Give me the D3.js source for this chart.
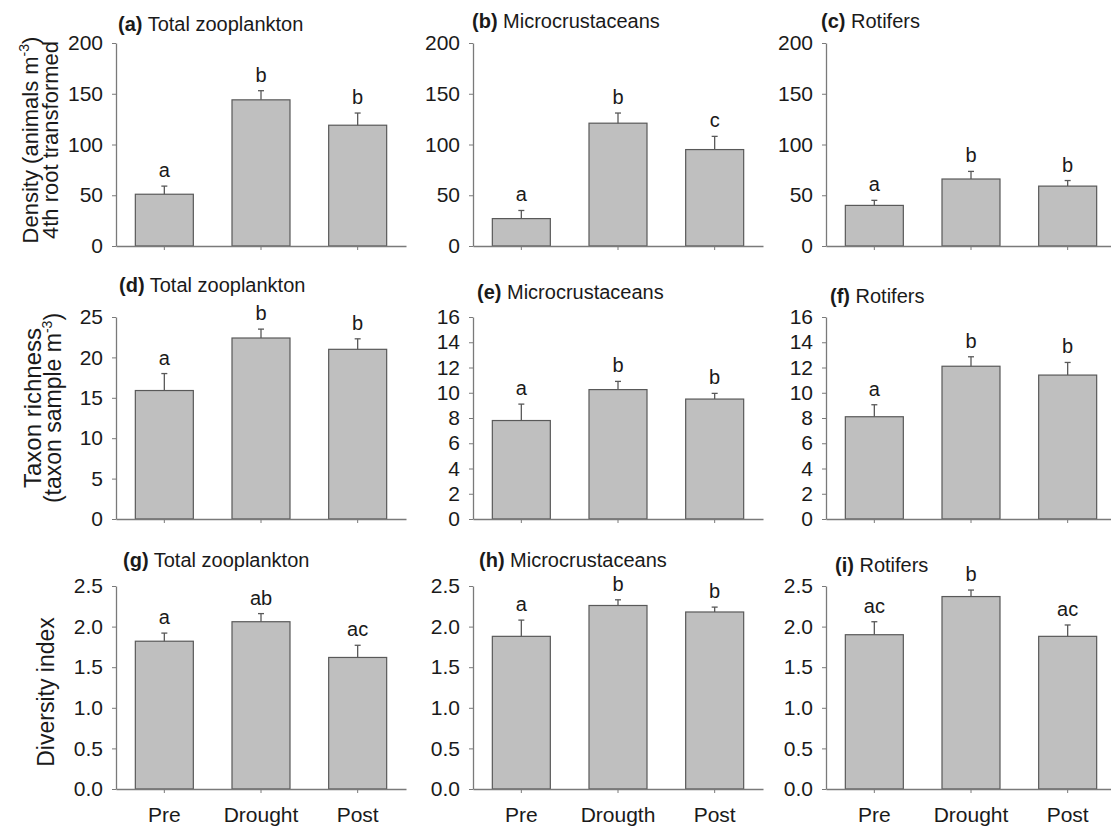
<!DOCTYPE html>
<html>
<head>
<meta charset="utf-8">
<script src="https://cdn.jsdelivr.net/npm/d3@7"></script>
<style>
  body { margin: 0; background: #fff; }
  svg text { font-family: Arial, "Liberation Sans", sans-serif; fill: #1a1a1a; }
</style>
</head>
<body>
<svg id="chart" width="1111" height="826"></svg>
<script>
// groups on the x axis
var groups = ["Pre", "Drought", "Post"];
var groupLabels = ["Pre", "Drought", "Post"];
var groupLabelsH = ["Pre", "Drougth", "Post"];   // typo kept as in the figure

// density (4th root transformed)
var densTotal = [51, 144, 119], densTotalSE = [8, 9, 12], densTotalLet = ["a", "b", "b"];
var densMicro = [27, 121, 95], densMicroSE = [8, 10, 13], densMicroLet = ["a", "b", "c"];
var densRot = [40, 66, 59], densRotSE = [5, 7.5, 5.5], densRotLet = ["a", "b", "b"];

// taxon richness
var richTotal = [15.9, 22.4, 21.0], richTotalSE = [2.1, 1.1, 1.3], richTotalLet = ["a", "b", "b"];
var richMicro = [7.8, 10.25, 9.5], richMicroSE = [1.3, 0.65, 0.45], richMicroLet = ["a", "b", "b"];
var richRot = [8.1, 12.1, 11.4], richRotSE = [0.95, 0.75, 1.0], richRotLet = ["a", "b", "b"];

// diversity index
var divTotal = [1.82, 2.06, 1.62], divTotalSE = [0.1, 0.1, 0.15], divTotalLet = ["a", "ab", "ac"];
var divMicro = [1.88, 2.26, 2.18], divMicroSE = [0.2, 0.07, 0.06], divMicroLet = ["a", "b", "b"];
var divRot = [1.9, 2.37, 1.88], divRotSE = [0.16, 0.08, 0.14], divRotLet = ["ac", "b", "ac"];

var panels = [
  {tag: "(a)", title: "Total zooplankton", mean: densTotal, se: densTotalSE, let: densTotalLet, ticks: [0, 50, 100, 150, 200], fmt: "d"},
  {tag: "(b)", title: "Microcrustaceans", mean: densMicro, se: densMicroSE, let: densMicroLet, ticks: [0, 50, 100, 150, 200], fmt: "d"},
  {tag: "(c)", title: "Rotifers", mean: densRot, se: densRotSE, let: densRotLet, ticks: [0, 50, 100, 150, 200], fmt: "d"},
  {tag: "(d)", title: "Total zooplankton", mean: richTotal, se: richTotalSE, let: richTotalLet, ticks: [0, 5, 10, 15, 20, 25], fmt: "d"},
  {tag: "(e)", title: "Microcrustaceans", mean: richMicro, se: richMicroSE, let: richMicroLet, ticks: [0, 2, 4, 6, 8, 10, 12, 14, 16], fmt: "d"},
  {tag: "(f)", title: "Rotifers", mean: richRot, se: richRotSE, let: richRotLet, ticks: [0, 2, 4, 6, 8, 10, 12, 14, 16], fmt: "d"},
  {tag: "(g)", title: "Total zooplankton", mean: divTotal, se: divTotalSE, let: divTotalLet, ticks: [0, 0.5, 1, 1.5, 2, 2.5], fmt: ".1f", xl: groupLabels},
  {tag: "(h)", title: "Microcrustaceans", mean: divMicro, se: divMicroSE, let: divMicroLet, ticks: [0, 0.5, 1, 1.5, 2, 2.5], fmt: ".1f", xl: groupLabelsH},
  {tag: "(i)", title: "Rotifers", mean: divRot, se: divRotSE, let: divRotLet, ticks: [0, 0.5, 1, 1.5, 2, 2.5], fmt: ".1f", xl: groupLabels}
];

// layout
var colX = [116, 473, 826],
  rowTop = [43, 317, 586],
  rowBot = [246, 519, 789],
  pw = 290,
  titlePos = [[118, 31], [472, 28], [821, 28], [119, 292], [477, 299], [830, 303], [123, 567], [479, 567], [835, 572]];

var svg = d3.select("#chart");

panels.forEach(function (p, i) {
  var c = i % 3, r = Math.floor(i / 3);
  var x = d3.scaleBand().domain(groups).range([colX[c], colX[c] + pw]).paddingInner(0.4).paddingOuter(0.2);
  var y = d3.scaleLinear().domain([0, p.ticks[p.ticks.length - 1]]).range([rowBot[r], rowTop[r]]);
  var g = svg.append("g");

  // bars
  g.selectAll("rect").data(p.mean).enter().append("rect")
    .attr("x", function (d, k) { return x(groups[k]); })
    .attr("y", function (d) { return y(d); })
    .attr("width", x.bandwidth())
    .attr("height", function (d) { return y(0) - y(d); })
    .attr("fill", "#bfbfbf")
    .attr("stroke", "#595959")
    .attr("stroke-width", 1.2);

  // error bars (upper only)
  p.mean.forEach(function (m, k) {
    var cx = x(groups[k]) + x.bandwidth() / 2;
    g.append("line").attr("x1", cx).attr("x2", cx).attr("y1", y(m)).attr("y2", y(m + p.se[k]))
      .attr("stroke", "#595959").attr("stroke-width", 1.3);
    g.append("line").attr("x1", cx - 3).attr("x2", cx + 3).attr("y1", y(m + p.se[k])).attr("y2", y(m + p.se[k]))
      .attr("stroke", "#595959").attr("stroke-width", 1.3);
    g.append("text").attr("x", cx).attr("y", y(m + p.se[k]) - 9)
      .attr("text-anchor", "middle").style("font-size", "20px").text(p.let[k]);
  });

  // axes
  var ya = g.append("g").attr("transform", "translate(" + colX[c] + ",0)")
    .call(d3.axisLeft(y).tickValues(p.ticks).tickFormat(d3.format(p.fmt)).tickSize(4).tickSizeOuter(0).tickPadding(9));
  var xa = g.append("g").attr("transform", "translate(0," + rowBot[r] + ")")
    .call(d3.axisBottom(x).tickSize(4).tickSizeOuter(0).tickPadding(14)
      .tickFormat(function (d, k) { return p.xl ? p.xl[k] : ""; }));
  [ya, xa].forEach(function (a) {
    a.select(".domain").attr("stroke", "#7a7a7a").attr("stroke-width", 1.3);
    a.selectAll(".tick line").attr("stroke", "#7a7a7a");
    a.selectAll(".tick text").style("font-size", "21px").attr("fill", "#1a1a1a").style("font-family", "Arial, 'Liberation Sans', sans-serif");
  });

  // title
  var t = svg.append("text").attr("x", titlePos[i][0]).attr("y", titlePos[i][1]).style("font-size", "20px");
  t.append("tspan").style("font-weight", "bold").text(p.tag);
  t.append("tspan").text(" " + p.title);
});

// y axis titles
function yTitle(cy, lines) {
  lines.forEach(function (ln) {
    var t = svg.append("text")
      .attr("transform", "translate(" + ln.bx + "," + cy + ") rotate(-90)")
      .attr("text-anchor", "middle")
      .style("font-size", ln.size + "px");
    t.append("tspan").text(ln.text);
    if (ln.sup) {
      t.append("tspan").attr("dy", -9).style("font-size", "14px").text("-3");
      t.append("tspan").attr("dy", 9).text(ln.after);
    }
  });
}
yTitle(140, [
  {bx: 38, size: 22, text: "Density (animals m", sup: true, after: ")"},
  {bx: 58, size: 22, text: "4th root transformed"}
]);
yTitle(408, [
  {bx: 41, size: 24, text: "Taxon richness"},
  {bx: 61, size: 23, text: "(taxon sample m", sup: true, after: ")"}
]);
yTitle(692, [
  {bx: 54, size: 23, text: "Diversity index"}
]);
</script>
</body>
</html>
